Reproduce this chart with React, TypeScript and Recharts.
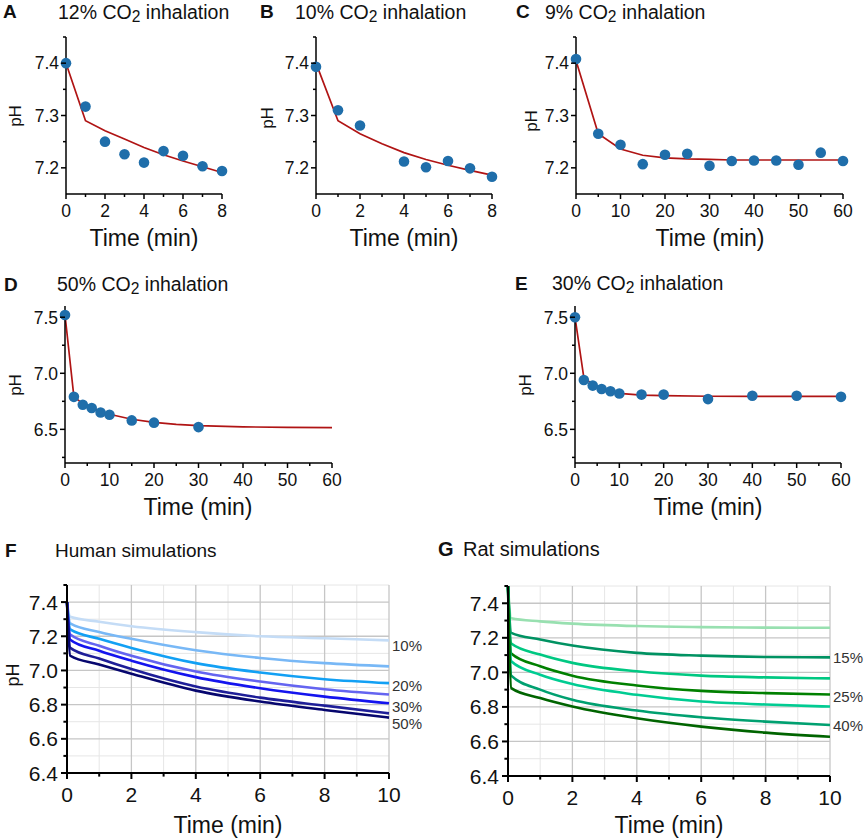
import React from "react"
import { ComposedChart, LineChart, Line, Scatter, XAxis, YAxis, CartesianGrid, LabelList } from "recharts"

const FONT = '"Liberation Sans", Arial, Helvetica, sans-serif'
const DOT = "#1f6eaa"
const FIT = "#b01414"

// A: 12% CO2
const timeA = [0, 1, 2, 3, 4, 5, 6, 7, 8]
const measA = [7.4, 7.317, 7.25, 7.226, 7.21, 7.232, 7.223, 7.203, 7.194]
const fitA = [7.4, 7.29, 7.271, 7.255, 7.239, 7.225, 7.213, 7.202, 7.191]

// B: 10% CO2
const measTimeB = [0, 1, 2, 4, 5, 6, 7, 8]
const measB = [7.393, 7.31, 7.281, 7.212, 7.201, 7.213, 7.199, 7.183]
const fitTimeB = [0, 1, 2, 3, 4, 5, 6, 7, 8]
const fitB = [7.4, 7.29, 7.265, 7.246, 7.229, 7.216, 7.205, 7.195, 7.186]

// C: 9% CO2
const timeC = [0, 5, 10, 15, 20, 25, 30, 35, 40, 45, 50, 55, 60]
const measC = [7.408, 7.265, 7.244, 7.207, 7.225, 7.227, 7.204, 7.213, 7.214, 7.214, 7.206, 7.229, 7.213]
const fitC = [7.405, 7.265, 7.236, 7.224, 7.219, 7.217, 7.216, 7.215, 7.215, 7.215, 7.215, 7.215, 7.215]

// D: 50% CO2
const measTimeD = [0, 2, 4, 6, 8, 10, 15, 20, 30]
const measD = [7.52, 6.79, 6.72, 6.69, 6.65, 6.63, 6.58, 6.56, 6.52]
const fitTimeD = [0, 2, 4, 6, 8, 10, 15, 20, 25, 30, 40, 50, 60]
const fitD = [7.52, 6.79, 6.73, 6.69, 6.66, 6.635, 6.59, 6.563, 6.545, 6.533, 6.522, 6.518, 6.516]

// E: 30% CO2
const timeE = [0, 2, 4, 6, 8, 10, 15, 20, 30, 40, 50, 60]
const measE = [7.5, 6.94, 6.89, 6.86, 6.84, 6.82, 6.81, 6.81, 6.77, 6.8, 6.8, 6.79]
const fitE = [7.5, 6.96, 6.9, 6.86, 6.835, 6.82, 6.805, 6.8, 6.795, 6.795, 6.795, 6.795]

// F: human simulations
const timeF = [0, 0.1, 1, 2, 4, 6, 8, 10]
const human10 = [7.4, 7.314, 7.285, 7.259, 7.224, 7.2, 7.188, 7.176]
const human15 = [7.4, 7.275, 7.225, 7.185, 7.118, 7.073, 7.043, 7.024]
const human20 = [7.4, 7.24, 7.185, 7.132, 7.043, 6.988, 6.949, 6.926]
const human25 = [7.4, 7.21, 7.145, 7.086, 6.994, 6.935, 6.89, 6.859]
const human30 = [7.4, 7.18, 7.115, 7.057, 6.961, 6.896, 6.847, 6.808]
const human40 = [7.4, 7.132, 7.07, 7.008, 6.906, 6.841, 6.794, 6.749]
const human50 = [7.4, 7.086, 7.035, 6.981, 6.882, 6.818, 6.769, 6.724]

// G: rat simulations
const timeG = [0, 0.1, 1, 2, 4, 6, 8, 10]
const rat10 = [7.5, 7.313, 7.295, 7.282, 7.268, 7.262, 7.259, 7.258]
const rat15 = [7.5, 7.229, 7.19, 7.155, 7.113, 7.097, 7.089, 7.087]
const rat20 = [7.5, 7.167, 7.103, 7.055, 7.006, 6.981, 6.971, 6.965]
const rat25 = [7.5, 7.109, 7.035, 6.981, 6.924, 6.893, 6.88, 6.872]
const rat30 = [7.5, 7.064, 6.986, 6.932, 6.87, 6.831, 6.814, 6.802]
const rat40 = [7.5, 6.981, 6.9, 6.841, 6.779, 6.74, 6.715, 6.695]
const rat50 = [7.5, 6.909, 6.851, 6.802, 6.734, 6.686, 6.651, 6.627]

const humanSeries = [
  { key: "h10", values: human10, color: "#c4dcf6", tag: "10%", shift: 5 },
  { key: "h15", values: human15, color: "#78b8f6", tag: "", shift: 0 },
  { key: "h20", values: human20, color: "#12a0f4", tag: "20%", shift: 2 },
  { key: "h25", values: human25, color: "#6464f0", tag: "", shift: 0 },
  { key: "h30", values: human30, color: "#1414ee", tag: "30%", shift: 3 },
  { key: "h40", values: human40, color: "#1e1e98", tag: "", shift: 0 },
  { key: "h50", values: human50, color: "#06066e", tag: "50%", shift: 6 },
]

const ratSeries = [
  { key: "r10", values: rat10, color: "#98e0b0", tag: "", shift: 0 },
  { key: "r15", values: rat15, color: "#009262", tag: "15%", shift: 0 },
  { key: "r20", values: rat20, color: "#00c882", tag: "", shift: 0 },
  { key: "r25", values: rat25, color: "#008000", tag: "25%", shift: 2 },
  { key: "r30", values: rat30, color: "#00cc92", tag: "", shift: 0 },
  { key: "r40", values: rat40, color: "#00a070", tag: "40%", shift: 1 },
  { key: "r50", values: rat50, color: "#006400", tag: "", shift: 0 },
]

const rows = (ts: number[], vs: number[]) => ts.map((t, i) => ({ t, ph: vs[i] }))

const table = (ts: number[], series: { key: string; values: number[] }[]) =>
  ts.map((t, i) => {
    const r: Record<string, number> = { t }
    series.forEach((s) => (r[s.key] = s.values[i]))
    return r
  })

const humanRows = table(timeF, humanSeries)
const ratRows = table(timeG, ratSeries)

type Box = { left: number; top: number; width: number; height: number }

const PAD_L = 70
const PAD_T = 14
const PAD_B = 50

function frame(box: Box, right: number) {
  return {
    style: { position: "absolute" as const, left: box.left - PAD_L, top: box.top - PAD_T },
    width: box.width + PAD_L + right,
    height: box.height + PAD_T + PAD_B,
    margin: { top: PAD_T, left: PAD_L - 60, right, bottom: PAD_B - 40 },
  }
}

const isIn = (list: number[], v: number) => list.some((m) => Math.abs(m - v) < 1e-6)
const merge = (a: number[], b: number[]) => [...a, ...b].sort((p, q) => p - q)

function xTick(majors: number[], fs: number, sw: number, len: number, off: number, dec: number) {
  return (p: any) => {
    const v = p.payload.value
    const big = isIn(majors, v)
    return (
      <g>
        <line x1={p.x} x2={p.x} y1={p.y} y2={p.y + (big ? len : len * 0.6)} stroke="#000" strokeWidth={sw} />
        {big && (
          <text x={p.x} y={p.y + off} textAnchor="middle" fontSize={fs} fontFamily={FONT} fill="#111">
            {v.toFixed(dec)}
          </text>
        )}
      </g>
    )
  }
}

function yTick(majors: number[], fs: number, sw: number, len: number, gap: number, dec: number) {
  return (p: any) => {
    const v = p.payload.value
    const big = isIn(majors, v)
    return (
      <g>
        <line x1={p.x} x2={p.x - (big ? len : len * 0.6)} y1={p.y} y2={p.y} stroke="#000" strokeWidth={sw} />
        {big && (
          <text x={p.x - gap} y={p.y + fs * 0.36} textAnchor="end" fontSize={fs} fontFamily={FONT} fill="#111">
            {v.toFixed(dec)}
          </text>
        )}
      </g>
    )
  }
}

type FitProps = {
  box: Box
  xDomain: [number, number]
  xMajor: number[]
  xMinor: number[]
  yDomain: [number, number]
  yMajor: number[]
  yMinor: number[]
  meas: { t: number; ph: number }[]
  fit: { t: number; ph: number }[]
}

function FitPanel({ box, xDomain, xMajor, xMinor, yDomain, yMajor, yMinor, meas, fit }: FitProps) {
  const g = frame(box, 14)
  return (
    <div style={g.style}>
      <ComposedChart width={g.width} height={g.height} margin={g.margin}>
        <XAxis
          type="number"
          dataKey="t"
          domain={xDomain}
          ticks={merge(xMajor, xMinor)}
          interval={0}
          height={40}
          tickLine={false}
          tickSize={0}
          tickMargin={0}
          axisLine={{ stroke: "#000", strokeWidth: 1.5 }}
          tick={xTick(xMajor, 17.5, 1.5, 5, 23, 0)}
        />
        <YAxis
          type="number"
          dataKey="ph"
          domain={yDomain}
          ticks={merge(yMajor, yMinor)}
          interval={0}
          width={60}
          tickLine={false}
          tickSize={0}
          tickMargin={0}
          axisLine={{ stroke: "#000", strokeWidth: 1.5 }}
          tick={yTick(yMajor, 17.5, 1.5, 5, 7, 1)}
        />
        <Scatter
          data={meas}
          dataKey="ph"
          isAnimationActive={false}
          shape={(p: any) => <circle cx={p.cx} cy={p.cy} r={5.3} fill={DOT} />}
        />
        <Line
          data={fit}
          dataKey="ph"
          type="linear"
          stroke={FIT}
          strokeWidth={1.7}
          dot={false}
          isAnimationActive={false}
        />
      </ComposedChart>
    </div>
  )
}

type SimSeries = { key: string; color: string; tag: string; shift: number }

function SimPanel({ box, data, series, top }: { box: Box; data: Record<string, number>[]; series: SimSeries[]; top: number }) {
  const g = frame(box, 40)
  const last = data.length - 1
  const xMajor = [0, 2, 4, 6, 8, 10]
  const xMinor = [1, 3, 5, 7, 9]
  const yMajor = [6.4, 6.6, 6.8, 7.0, 7.2, 7.4]
  const yMinor = [6.5, 6.7, 6.9, 7.1, 7.3, 7.5]
  return (
    <div style={g.style}>
      <LineChart width={g.width} height={g.height} margin={g.margin} data={data}>
        <CartesianGrid
          horizontalValues={yMinor}
          verticalValues={xMinor}
          stroke="#e6e6e6"
          strokeWidth={1}
        />
        <CartesianGrid
          horizontalValues={yMajor}
          verticalValues={xMajor}
          stroke="#c6c6c6"
          strokeWidth={1.3}
        />
        <XAxis
          type="number"
          dataKey="t"
          domain={[0, 10]}
          ticks={merge(xMajor, xMinor)}
          interval={0}
          height={40}
          tickLine={false}
          tickSize={0}
          tickMargin={0}
          axisLine={{ stroke: "#000", strokeWidth: 2 }}
          tick={xTick(xMajor, 21, 2, 6, 29, 0)}
        />
        <YAxis
          type="number"
          domain={[6.4, top]}
          ticks={merge(yMajor, yMinor)}
          interval={0}
          width={60}
          tickLine={false}
          tickSize={0}
          tickMargin={0}
          axisLine={{ stroke: "#000", strokeWidth: 2 }}
          tick={yTick(yMajor, 21, 2, 6, 9, 1)}
        />
        {series.map((s) => (
          <Line
            key={s.key}
            dataKey={s.key}
            type="monotone"
            stroke={s.color}
            strokeWidth={2.6}
            dot={false}
            isAnimationActive={false}
          >
            {s.tag !== "" && (
              <LabelList
                dataKey={s.key}
                content={(p: any) =>
                  p.index === last ? (
                    <text
                      x={Number(p.x) + 3}
                      y={Number(p.y) + s.shift + 5.4}
                      fontSize={15}
                      fontFamily={FONT}
                      fill="#333"
                    >
                      {s.tag}
                    </text>
                  ) : (
                    <g />
                  )
                }
              />
            )}
          </Line>
        ))}
      </LineChart>
    </div>
  )
}

function Txt({ x, y, size, bold, center, children }: { x: number; y: number; size: number; bold?: boolean; center?: boolean; children: React.ReactNode }) {
  return (
    <div
      style={{
        position: "absolute",
        left: x,
        top: y - size * 0.49,
        fontSize: size,
        lineHeight: 1,
        fontFamily: FONT,
        fontWeight: bold ? 700 : 400,
        color: "#111",
        whiteSpace: "nowrap",
        transform: center ? "translateX(-50%)" : undefined,
      }}
    >
      {children}
    </div>
  )
}

function Vert({ x, y, size, children }: { x: number; y: number; size: number; children: React.ReactNode }) {
  return (
    <div
      style={{
        position: "absolute",
        left: x,
        top: y,
        fontSize: size,
        lineHeight: 1,
        fontFamily: FONT,
        color: "#111",
        whiteSpace: "nowrap",
        transform: "translate(-50%, -50%) rotate(-90deg)",
      }}
    >
      {children}
    </div>
  )
}

const Co2 = ({ pct }: { pct: string }) => (
  <>
    {pct} CO<sub style={{ fontSize: "0.8em", verticalAlign: "-0.22em", lineHeight: 0 }}>2</sub> inhalation
  </>
)

export default function App() {
  const smallX = [0, 2, 4, 6, 8]
  const smallXMinor = [1, 3, 5, 7]
  const longX = [0, 10, 20, 30, 40, 50, 60]
  const longXMinor = [5, 15, 25, 35, 45, 55]
  const topY = [7.2, 7.3, 7.4]
  const topYMinor = [7.25, 7.35, 7.45]
  const midY = [6.5, 7.0, 7.5]
  const midYMinor = [6.25, 6.75, 7.25]
  return (
    <div style={{ position: "absolute", left: 0, top: 0, width: 865, height: 840, background: "#fff", overflow: "hidden" }}>
      <FitPanel
        box={{ left: 66, top: 37, width: 156, height: 157 }}
        xDomain={[0, 8]}
        xMajor={smallX}
        xMinor={smallXMinor}
        yDomain={[7.15, 7.45]}
        yMajor={topY}
        yMinor={topYMinor}
        meas={rows(timeA, measA)}
        fit={rows(timeA, fitA)}
      />
      <FitPanel
        box={{ left: 316, top: 37, width: 176, height: 157 }}
        xDomain={[0, 8]}
        xMajor={smallX}
        xMinor={smallXMinor}
        yDomain={[7.15, 7.45]}
        yMajor={topY}
        yMinor={topYMinor}
        meas={rows(measTimeB, measB)}
        fit={rows(fitTimeB, fitB)}
      />
      <FitPanel
        box={{ left: 576, top: 37, width: 267, height: 157 }}
        xDomain={[0, 60]}
        xMajor={longX}
        xMinor={longXMinor}
        yDomain={[7.15, 7.45]}
        yMajor={topY}
        yMinor={topYMinor}
        meas={rows(timeC, measC)}
        fit={rows(timeC, fitC)}
      />
      <FitPanel
        box={{ left: 65, top: 306, width: 267, height: 157 }}
        xDomain={[0, 60]}
        xMajor={longX}
        xMinor={longXMinor}
        yDomain={[6.2, 7.6]}
        yMajor={midY}
        yMinor={midYMinor}
        meas={rows(measTimeD, measD)}
        fit={rows(fitTimeD, fitD)}
      />
      <FitPanel
        box={{ left: 575, top: 306, width: 266, height: 157 }}
        xDomain={[0, 60]}
        xMajor={longX}
        xMinor={longXMinor}
        yDomain={[6.2, 7.6]}
        yMajor={midY}
        yMinor={midYMinor}
        meas={rows(timeE, measE)}
        fit={rows(timeE, fitE)}
      />
      <SimPanel box={{ left: 67, top: 585, width: 322, height: 188 }} data={humanRows} series={humanSeries} top={7.5} />
      <SimPanel box={{ left: 508, top: 586, width: 322, height: 190 }} data={ratRows} series={ratSeries} top={7.5} />

      <Txt x={3} y={11} size={19} bold>A</Txt>
      <Txt x={58} y={12.5} size={19.5}><Co2 pct="12%" /></Txt>
      <Txt x={260} y={11} size={19} bold>B</Txt>
      <Txt x={295} y={12.5} size={19.5}><Co2 pct="10%" /></Txt>
      <Txt x={516} y={11} size={19} bold>C</Txt>
      <Txt x={545} y={12.5} size={19.5}><Co2 pct="9%" /></Txt>
      <Txt x={4} y={284} size={19} bold>D</Txt>
      <Txt x={57} y={284.5} size={19.5}><Co2 pct="50%" /></Txt>
      <Txt x={515} y={283} size={19} bold>E</Txt>
      <Txt x={552} y={283.5} size={19.5}><Co2 pct="30%" /></Txt>
      <Txt x={5} y={550} size={19} bold>F</Txt>
      <Txt x={55} y={550} size={19}>Human simulations</Txt>
      <Txt x={438} y={549} size={20} bold>G</Txt>
      <Txt x={463} y={549} size={20}>Rat simulations</Txt>

      <Txt x={144} y={238} size={23} center>Time (min)</Txt>
      <Txt x={404} y={238} size={23} center>Time (min)</Txt>
      <Txt x={710} y={238} size={23} center>Time (min)</Txt>
      <Txt x={198} y={507} size={23} center>Time (min)</Txt>
      <Txt x={708} y={507} size={23} center>Time (min)</Txt>
      <Txt x={228} y={825} size={23} center>Time (min)</Txt>
      <Txt x={669} y={825} size={23} center>Time (min)</Txt>

      <Vert x={15} y={116} size={17}>pH</Vert>
      <Vert x={267} y={118} size={17}>pH</Vert>
      <Vert x={531} y={121} size={17}>pH</Vert>
      <Vert x={15} y={385} size={17}>pH</Vert>
      <Vert x={525} y={385} size={17}>pH</Vert>
      <Vert x={13} y={675} size={18}>pH</Vert>
    </div>
  )
}
